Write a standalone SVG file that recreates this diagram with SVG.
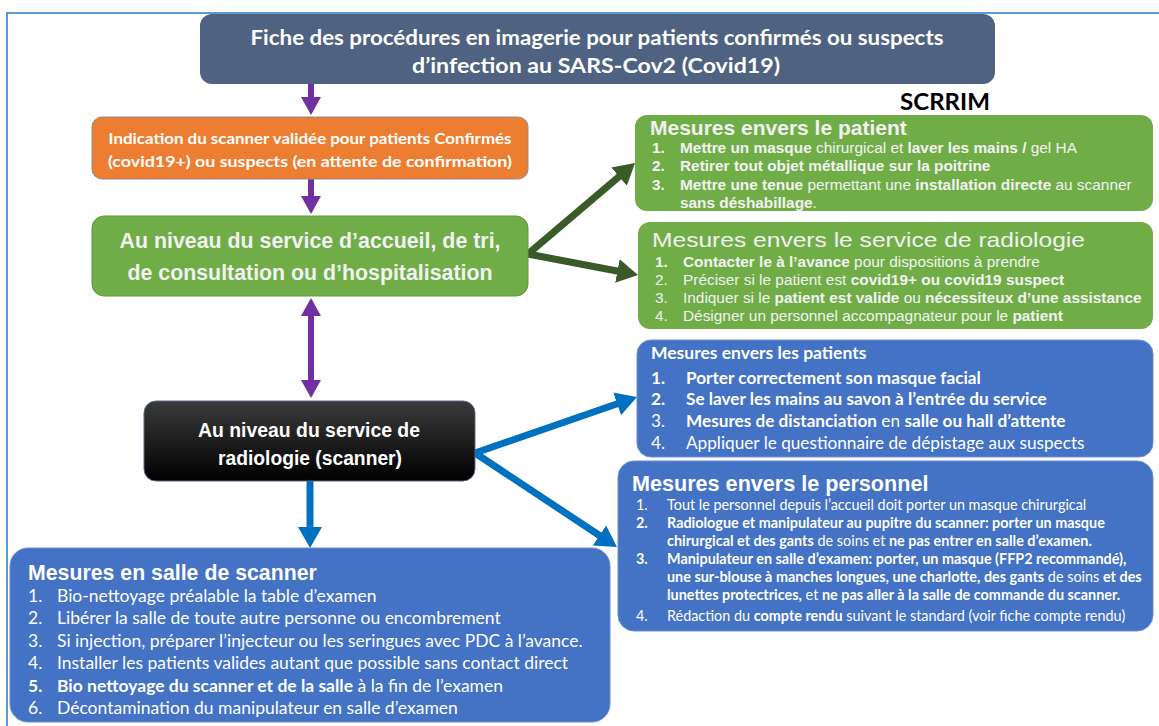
<svg xmlns="http://www.w3.org/2000/svg" width="1159" height="726" viewBox="0 0 1159 726">
<style>
.cal{font-family:Lato,"Open Sans","Noto Sans",sans-serif}
.ari{font-family:"Liberation Sans",Arial,sans-serif}
.w{fill:#ffffff}
.b{font-weight:bold}
.n{font-weight:normal}
</style>
<defs>
<linearGradient id="blk" x1="0" y1="0" x2="0" y2="1">
<stop offset="0" stop-color="#3b3b3b"/>
<stop offset="1" stop-color="#000000"/>
</linearGradient>
<marker id="mp" markerUnits="userSpaceOnUse" markerWidth="20" markerHeight="20" refX="1" refY="10" orient="auto-start-reverse"><path d="M0,0 L18,10 L0,20 z" fill="#7030a0"/></marker>
<marker id="mg" markerUnits="userSpaceOnUse" markerWidth="22" markerHeight="24" refX="1" refY="12" orient="auto"><path d="M0,0 L21,12 L0,24 z" fill="#3a5a27"/></marker>
<marker id="mb" markerUnits="userSpaceOnUse" markerWidth="22" markerHeight="24" refX="1" refY="12" orient="auto"><path d="M0,0 L21,12 L0,24 z" fill="#0070c0"/></marker>
</defs>
<rect width="1159" height="726" fill="#ffffff"/>
<path d="M1159,13 H7 V726" fill="none" stroke="#5b9bd5" stroke-width="2"/>

<g id="connectors">
<path d="M311,84 V98" stroke="#7030a0" stroke-width="6" marker-end="url(#mp)"/>
<path d="M311,179 V197" stroke="#7030a0" stroke-width="6" marker-end="url(#mp)"/>
<path d="M311,315 V381" stroke="#7030a0" stroke-width="6" marker-start="url(#mp)" marker-end="url(#mp)"/>
<path d="M310,481 V528" stroke="#0070c0" stroke-width="7" marker-end="url(#mb)"/>
<path d="M528,254 L619.8,176" stroke="#3a5a27" stroke-width="7" marker-end="url(#mg)"/>
<path d="M528,254 L618.4,271.2" stroke="#3a5a27" stroke-width="7" marker-end="url(#mg)"/>
<path d="M475,453 L618.1,403.5" stroke="#0070c0" stroke-width="7" marker-end="url(#mb)"/>
<path d="M475,453 L600.3,536" stroke="#0070c0" stroke-width="7" marker-end="url(#mb)"/>
</g>

<g id="title">
<rect x="200" y="14" width="795" height="70" rx="12" fill="#4f6282"/>
<text class="cal b w" font-size="20" x="597" y="45" text-anchor="middle" textLength="693" lengthAdjust="spacingAndGlyphs">Fiche des procédures en imagerie pour patients confirmés ou suspects</text>
<text class="cal b w" font-size="20" x="596" y="73" text-anchor="middle" textLength="368" lengthAdjust="spacingAndGlyphs">d’infection au SARS-Cov2 (Covid19)</text>
</g>

<g id="scrrim">
<text class="cal b" font-size="23" x="900" y="110" fill="#000000" textLength="90" lengthAdjust="spacingAndGlyphs">SCRRIM</text>
</g>

<g id="indication">
<rect x="92" y="117" width="436" height="62" rx="10" fill="#ed7d31" stroke="#8c8c8c" stroke-width="1"/>
<text class="cal b w" font-size="16" x="310" y="144" text-anchor="middle" textLength="403" lengthAdjust="spacingAndGlyphs">Indication du scanner validée pour patients Confirmés</text>
<text class="cal b w" font-size="16" x="310" y="167" text-anchor="middle" textLength="404" lengthAdjust="spacingAndGlyphs">(covid19+) ou suspects (en attente de confirmation)</text>
</g>

<g id="accueil">
<rect x="92" y="216" width="436" height="80" rx="12" fill="#70ad47" stroke="#5e9a3a" stroke-width="1"/>
<text class="ari b" fill="#f2f2f2" font-size="22" x="310" y="248" text-anchor="middle" textLength="381" lengthAdjust="spacingAndGlyphs">Au niveau du service d’accueil, de tri,</text>
<text class="ari b" fill="#f2f2f2" font-size="22" x="310" y="280" text-anchor="middle" textLength="365" lengthAdjust="spacingAndGlyphs">de consultation ou d’hospitalisation</text>
</g>

<g id="radiologie">
<rect x="144" y="401" width="331" height="80" rx="12" fill="url(#blk)" stroke="#5a6a8a" stroke-width="1"/>
<text class="ari b w" font-size="20" x="309" y="437" text-anchor="middle" textLength="222" lengthAdjust="spacingAndGlyphs">Au niveau du service de</text>
<text class="ari b w" font-size="20" x="310" y="465" text-anchor="middle" textLength="184" lengthAdjust="spacingAndGlyphs">radiologie (scanner)</text>
</g>

<g id="mesures-patient">
<rect x="635" y="115" width="518" height="96" rx="12" fill="#70ad47"/>
<g class="ari" fill="#f2f2f2" font-size="15.4">
<text class="b" font-size="21" x="650" y="135">Mesures envers le patient</text>
<text x="652" y="153"><tspan class="b">1.</tspan><tspan x="680" class="b">Mettre un masque</tspan> chirurgical et <tspan class="b">laver les mains /</tspan> gel HA</text>
<text x="652" y="171" class="b">2.<tspan x="680">Retirer tout objet métallique sur la poitrine</tspan></text>
<text x="652" y="190"><tspan class="b">3.</tspan><tspan x="680" class="b">Mettre une tenue</tspan> permettant une <tspan class="b">installation directe</tspan> au scanner</text>
<text x="680" y="208"><tspan class="b">sans déshabillage</tspan>.</text>
</g>
</g>

<g id="mesures-service">
<rect x="638" y="222" width="515" height="107" rx="12" fill="#70ad47"/>
<g class="ari" fill="#f2f2f2" font-size="15.4">
<text font-size="21" x="652" y="247" textLength="433" lengthAdjust="spacingAndGlyphs">Mesures envers le service de radiologie</text>
<text x="655" y="267"><tspan class="b">1.</tspan><tspan x="683" class="b">Contacter le à l’avance</tspan> pour dispositions à prendre</text>
<text x="655" y="285">2.<tspan x="683">Préciser si le patient est </tspan><tspan class="b">covid19+ ou covid19 suspect</tspan></text>
<text x="655" y="303">3.<tspan x="683">Indiquer si le </tspan><tspan class="b">patient est valide</tspan> ou <tspan class="b">nécessiteux d’une assistance</tspan></text>
<text x="655" y="321">4.<tspan x="683">Désigner un personnel accompagnateur pour le </tspan><tspan class="b">patient</tspan></text>
</g>
</g>

<g id="mesures-patients">
<rect x="637" y="340" width="516" height="117" rx="14" fill="#4472c4" stroke="#6a8fd3" stroke-width="1"/>
<g class="cal" fill="#ffffff" font-size="17.2">
<text class="b" font-size="17.5" x="651" y="359">Mesures envers les patients</text>
<text class="b" x="651" y="384">1.<tspan x="686">Porter correctement son masque facial</tspan></text>
<text class="b" x="651" y="405">2.<tspan x="686">Se laver les mains au savon à l’entrée du service</tspan></text>
<text x="651" y="427">3.<tspan x="686" class="b">Mesures de distanciation</tspan> en <tspan class="b">salle ou hall d’attente</tspan></text>
<text x="651" y="449">4.<tspan x="686">Appliquer le questionnaire de dépistage aux suspects</tspan></text>
</g>
</g>

<g id="mesures-personnel">
<rect x="618" y="461" width="535" height="170" rx="16" fill="#4472c4" stroke="#6a8fd3" stroke-width="1"/>
<text class="ari b w" font-size="21.6" x="632" y="491">Mesures envers le personnel</text>
<g class="cal" fill="#ffffff" font-size="14.4">
<text x="636" y="510">1.<tspan x="667">Tout le personnel depuis l’accueil doit porter un masque chirurgical</tspan></text>
<text class="b" x="636" y="528">2.<tspan x="667">Radiologue et manipulateur au pupitre du scanner: porter un masque</tspan></text>
<text x="667" y="546"><tspan class="b">chirurgical et des gants</tspan> de soins et <tspan class="b">ne pas entrer en salle d’examen.</tspan></text>
<text class="b" x="636" y="564">3.<tspan x="667">Manipulateur en salle d’examen: porter, un masque (FFP2 recommandé),</tspan></text>
<text x="667" y="582"><tspan class="b">une sur-blouse à manches longues, une charlotte, des gants</tspan> de soins <tspan class="b">et des</tspan></text>
<text x="667" y="600"><tspan class="b">lunettes protectrices,</tspan> et <tspan class="b">ne pas aller à la salle de commande du scanner.</tspan></text>
<text x="636" y="621">4.<tspan x="667">Rédaction du </tspan><tspan class="b">compte rendu</tspan> suivant le standard (voir fiche compte rendu)</text>
</g>
</g>

<g id="mesures-salle">
<rect x="10" y="548" width="600" height="174" rx="18" fill="#4472c4" stroke="#6a8fd3" stroke-width="1"/>
<text class="ari b w" font-size="21.3" x="28" y="580">Mesures en salle de scanner</text>
<g class="cal" fill="#ffffff" font-size="17.5">
<text x="28" y="602">1.<tspan x="57">Bio-nettoyage préalable la table d’examen</tspan></text>
<text x="28" y="624">2.<tspan x="57">Libérer la salle de toute autre personne ou encombrement</tspan></text>
<text x="28" y="647">3.<tspan x="57">Si injection, préparer l’injecteur ou les seringues avec PDC à l’avance.</tspan></text>
<text x="28" y="669">4.<tspan x="57">Installer les patients valides autant que possible sans contact direct</tspan></text>
<text x="28" y="692"><tspan class="b">5.</tspan><tspan x="57" class="b">Bio nettoyage du scanner et de la salle</tspan> à la fin de l’examen</text>
<text x="28" y="714">6.<tspan x="57">Décontamination du manipulateur en salle d’examen</tspan></text>
</g>
</g>
</svg>
